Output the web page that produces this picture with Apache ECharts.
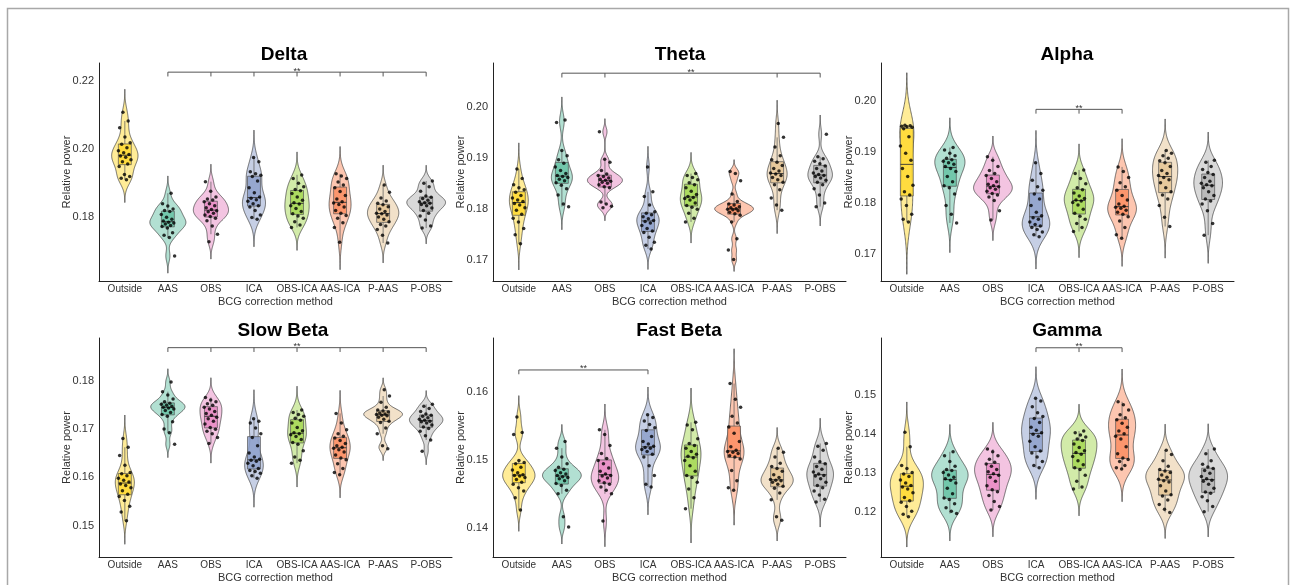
<!DOCTYPE html>
<html>
<head>
<meta charset="utf-8">
<script src="https://cdn.jsdelivr.net/npm/echarts@6/dist/echarts.min.js"></script>
<style>
html, body { margin: 0; padding: 0; background: #fff; }
#chart { width: 1293px; height: 585px; }
</style>
</head>
<body>
<div id="chart"></div>
<script>
var categories = ['Outside', 'AAS', 'OBS', 'ICA', 'OBS-ICA', 'AAS-ICA', 'P-AAS', 'P-OBS'];
var bandNames = ['Delta', 'Theta', 'Alpha', 'Slow Beta', 'Fast Beta', 'Gamma'];

// relative power per subject, one list per correction method
var deltaPower = [
    [0.1909, 0.1913, 0.1918, 0.1924, 0.1948, 0.1955, 0.1962, 0.1968, 0.1975, 0.1979, 0.1983, 0.1988, 0.1994, 0.2003, 0.2013, 0.2018, 0.2035, 0.2062, 0.2082, 0.2108],
    [0.1684, 0.1738, 0.1745, 0.1752, 0.1766, 0.1771, 0.1774, 0.1778, 0.1781, 0.1783, 0.1787, 0.1792, 0.1798, 0.1806, 0.1815, 0.1818, 0.1822, 0.1831, 0.1838, 0.1869],
    [0.1726, 0.1748, 0.1772, 0.1788, 0.1795, 0.1800, 0.1805, 0.1810, 0.1814, 0.1817, 0.1821, 0.1826, 0.1832, 0.1838, 0.1844, 0.1849, 0.1852, 0.1858, 0.1875, 0.1903],
    [0.1792, 0.1797, 0.1805, 0.1818, 0.1828, 0.1832, 0.1838, 0.1845, 0.1850, 0.1854, 0.1858, 0.1870, 0.1885, 0.1905, 0.1918, 0.1922, 0.1926, 0.1932, 0.1962, 0.1974],
    [0.1768, 0.1775, 0.1785, 0.1795, 0.1802, 0.1808, 0.1815, 0.1824, 0.1832, 0.1837, 0.1841, 0.1848, 0.1858, 0.1868, 0.1876, 0.1880, 0.1888, 0.1898, 0.1912, 0.1923],
    [0.1724, 0.1768, 0.1782, 0.1795, 0.1803, 0.1810, 0.1818, 0.1828, 0.1836, 0.1840, 0.1844, 0.1852, 0.1862, 0.1874, 0.1885, 0.1893, 0.1902, 0.1912, 0.1920, 0.1926],
    [0.1722, 0.1745, 0.1762, 0.1772, 0.1777, 0.1785, 0.1792, 0.1799, 0.1805, 0.1808, 0.1810, 0.1815, 0.1822, 0.1829, 0.1835, 0.1839, 0.1846, 0.1855, 0.1872, 0.1893],
    [0.1766, 0.1772, 0.1790, 0.1802, 0.1810, 0.1818, 0.1825, 0.1832, 0.1836, 0.1839, 0.1841, 0.1844, 0.1848, 0.1853, 0.1857, 0.1861, 0.1875, 0.1888, 0.1898, 0.1905]
];
var thetaPower = [
    [0.1732, 0.1750, 0.1762, 0.1775, 0.1782, 0.1790, 0.1798, 0.1803, 0.1808, 0.1811, 0.1815, 0.1818, 0.1822, 0.1827, 0.1833, 0.1838, 0.1842, 0.1848, 0.1860, 0.1879],
    [0.1805, 0.1810, 0.1828, 0.1840, 0.1847, 0.1852, 0.1856, 0.1859, 0.1862, 0.1864, 0.1866, 0.1870, 0.1876, 0.1883, 0.1890, 0.1897, 0.1905, 0.1915, 0.1970, 0.1975],
    [0.1803, 0.1806, 0.1810, 0.1814, 0.1842, 0.1844, 0.1848, 0.1851, 0.1853, 0.1855, 0.1857, 0.1859, 0.1861, 0.1864, 0.1866, 0.1869, 0.1876, 0.1892, 0.1898, 0.1952],
    [0.1722, 0.1729, 0.1735, 0.1745, 0.1754, 0.1757, 0.1762, 0.1768, 0.1773, 0.1776, 0.1778, 0.1781, 0.1785, 0.1789, 0.1792, 0.1795, 0.1808, 0.1825, 0.1834, 0.1883],
    [0.1775, 0.1782, 0.1792, 0.1800, 0.1804, 0.1807, 0.1812, 0.1818, 0.1821, 0.1823, 0.1825, 0.1829, 0.1835, 0.1842, 0.1848, 0.1852, 0.1858, 0.1862, 0.1866, 0.1870],
    [0.1701, 0.1720, 0.1742, 0.1775, 0.1788, 0.1791, 0.1794, 0.1797, 0.1799, 0.1800, 0.1801, 0.1803, 0.1805, 0.1808, 0.1810, 0.1815, 0.1830, 0.1856, 0.1870, 0.1874],
    [0.1798, 0.1808, 0.1822, 0.1838, 0.1848, 0.1853, 0.1858, 0.1862, 0.1866, 0.1869, 0.1871, 0.1875, 0.1880, 0.1886, 0.1892, 0.1897, 0.1905, 0.1922, 0.1941, 0.1968],
    [0.1805, 0.1812, 0.1828, 0.1840, 0.1848, 0.1853, 0.1857, 0.1861, 0.1864, 0.1866, 0.1868, 0.1871, 0.1875, 0.1880, 0.1885, 0.1889, 0.1894, 0.1899, 0.1903, 0.1947]
];
var alphaPower = [
    [0.1763, 0.1768, 0.1778, 0.1795, 0.1808, 0.1816, 0.1822, 0.1835, 0.1852, 0.1868, 0.1884, 0.1898, 0.1912, 0.1930, 0.1946, 0.1949, 0.1950, 0.1951, 0.1952, 0.1953],
    [0.1761, 0.1778, 0.1795, 0.1818, 0.1830, 0.1834, 0.1842, 0.1852, 0.1862, 0.1868, 0.1872, 0.1876, 0.1879, 0.1882, 0.1885, 0.1888, 0.1893, 0.1898, 0.1904, 0.1909],
    [0.1767, 0.1785, 0.1805, 0.1812, 0.1816, 0.1819, 0.1823, 0.1827, 0.1830, 0.1832, 0.1834, 0.1837, 0.1842, 0.1848, 0.1854, 0.1858, 0.1864, 0.1872, 0.1884, 0.1891],
    [0.1734, 0.1738, 0.1743, 0.1748, 0.1752, 0.1755, 0.1758, 0.1763, 0.1768, 0.1771, 0.1775, 0.1782, 0.1795, 0.1808, 0.1818, 0.1825, 0.1832, 0.1845, 0.1858, 0.1879],
    [0.1744, 0.1752, 0.1760, 0.1768, 0.1774, 0.1780, 0.1788, 0.1796, 0.1801, 0.1804, 0.1806, 0.1809, 0.1814, 0.1820, 0.1826, 0.1830, 0.1838, 0.1848, 0.1858, 0.1865],
    [0.1731, 0.1738, 0.1752, 0.1765, 0.1773, 0.1778, 0.1782, 0.1786, 0.1790, 0.1792, 0.1794, 0.1798, 0.1806, 0.1815, 0.1825, 0.1832, 0.1840, 0.1850, 0.1862, 0.1871],
    [0.1754, 0.1772, 0.1795, 0.1808, 0.1816, 0.1822, 0.1830, 0.1840, 0.1846, 0.1850, 0.1854, 0.1858, 0.1864, 0.1872, 0.1879, 0.1883, 0.1888, 0.1893, 0.1898, 0.1903],
    [0.1737, 0.1760, 0.1785, 0.1798, 0.1804, 0.1808, 0.1815, 0.1822, 0.1830, 0.1834, 0.1836, 0.1839, 0.1843, 0.1850, 0.1856, 0.1860, 0.1866, 0.1872, 0.1880, 0.1884]
];
var slowBetaPower = [
    [0.1510, 0.1528, 0.1540, 0.1552, 0.1560, 0.1565, 0.1572, 0.1578, 0.1583, 0.1586, 0.1590, 0.1594, 0.1598, 0.1603, 0.1607, 0.1610, 0.1625, 0.1645, 0.1662, 0.1680],
    [0.1668, 0.1692, 0.1700, 0.1715, 0.1726, 0.1730, 0.1734, 0.1738, 0.1741, 0.1743, 0.1745, 0.1747, 0.1749, 0.1751, 0.1753, 0.1756, 0.1762, 0.1770, 0.1777, 0.1797],
    [0.1670, 0.1682, 0.1690, 0.1695, 0.1699, 0.1703, 0.1710, 0.1716, 0.1721, 0.1724, 0.1728, 0.1732, 0.1736, 0.1741, 0.1745, 0.1749, 0.1752, 0.1756, 0.1760, 0.1765],
    [0.1598, 0.1603, 0.1608, 0.1612, 0.1614, 0.1618, 0.1624, 0.1629, 0.1633, 0.1635, 0.1637, 0.1642, 0.1650, 0.1665, 0.1682, 0.1690, 0.1702, 0.1712, 0.1716, 0.1721],
    [0.1629, 0.1635, 0.1642, 0.1655, 0.1668, 0.1672, 0.1678, 0.1684, 0.1688, 0.1690, 0.1692, 0.1696, 0.1703, 0.1712, 0.1718, 0.1722, 0.1726, 0.1730, 0.1734, 0.1739],
    [0.1605, 0.1610, 0.1618, 0.1628, 0.1636, 0.1640, 0.1646, 0.1652, 0.1657, 0.1660, 0.1662, 0.1665, 0.1670, 0.1676, 0.1681, 0.1685, 0.1690, 0.1698, 0.1712, 0.1732],
    [0.1659, 0.1665, 0.1690, 0.1702, 0.1713, 0.1716, 0.1720, 0.1724, 0.1727, 0.1728, 0.1730, 0.1731, 0.1733, 0.1735, 0.1737, 0.1739, 0.1745, 0.1755, 0.1768, 0.1781],
    [0.1654, 0.1677, 0.1686, 0.1695, 0.1701, 0.1704, 0.1708, 0.1712, 0.1715, 0.1716, 0.1718, 0.1720, 0.1723, 0.1726, 0.1728, 0.1731, 0.1736, 0.1742, 0.1747, 0.1751]
];
var fastBetaPower = [
    [0.1427, 0.1445, 0.1455, 0.1460, 0.1465, 0.1468, 0.1472, 0.1475, 0.1477, 0.1478, 0.1479, 0.1482, 0.1486, 0.1490, 0.1495, 0.1497, 0.1500, 0.1538, 0.1541, 0.1564],
    [0.1402, 0.1417, 0.1451, 0.1456, 0.1463, 0.1466, 0.1470, 0.1473, 0.1475, 0.1476, 0.1478, 0.1480, 0.1482, 0.1485, 0.1487, 0.1490, 0.1495, 0.1505, 0.1518, 0.1528],
    [0.1411, 0.1451, 0.1456, 0.1461, 0.1465, 0.1467, 0.1470, 0.1474, 0.1477, 0.1478, 0.1480, 0.1484, 0.1489, 0.1495, 0.1500, 0.1503, 0.1510, 0.1522, 0.1538, 0.1545],
    [0.1461, 0.1465, 0.1478, 0.1492, 0.1505, 0.1509, 0.1513, 0.1516, 0.1518, 0.1519, 0.1521, 0.1524, 0.1528, 0.1535, 0.1544, 0.1548, 0.1553, 0.1558, 0.1563, 0.1567],
    [0.1429, 0.1445, 0.1458, 0.1468, 0.1475, 0.1478, 0.1484, 0.1492, 0.1500, 0.1504, 0.1506, 0.1509, 0.1513, 0.1518, 0.1522, 0.1525, 0.1532, 0.1545, 0.1552, 0.1556],
    [0.1456, 0.1460, 0.1470, 0.1485, 0.1502, 0.1505, 0.1507, 0.1510, 0.1512, 0.1513, 0.1515, 0.1520, 0.1528, 0.1540, 0.1549, 0.1555, 0.1565, 0.1578, 0.1590, 0.1613],
    [0.1412, 0.1417, 0.1442, 0.1452, 0.1459, 0.1462, 0.1465, 0.1468, 0.1470, 0.1471, 0.1472, 0.1475, 0.1479, 0.1484, 0.1488, 0.1491, 0.1496, 0.1505, 0.1512, 0.1518],
    [0.1439, 0.1443, 0.1449, 0.1455, 0.1460, 0.1463, 0.1468, 0.1473, 0.1477, 0.1478, 0.1480, 0.1483, 0.1487, 0.1491, 0.1495, 0.1498, 0.1505, 0.1515, 0.1521, 0.1525]
];
var gammaPower = [
    [0.1189, 0.1195, 0.1203, 0.1215, 0.1226, 0.1230, 0.1238, 0.1250, 0.1260, 0.1265, 0.1269, 0.1275, 0.1283, 0.1292, 0.1298, 0.1302, 0.1312, 0.1320, 0.1368, 0.1405],
    [0.1197, 0.1203, 0.1212, 0.1222, 0.1233, 0.1237, 0.1248, 0.1262, 0.1275, 0.1282, 0.1286, 0.1290, 0.1296, 0.1302, 0.1307, 0.1310, 0.1318, 0.1330, 0.1345, 0.1355],
    [0.1206, 0.1215, 0.1228, 0.1243, 0.1253, 0.1258, 0.1268, 0.1280, 0.1290, 0.1295, 0.1299, 0.1304, 0.1310, 0.1318, 0.1324, 0.1328, 0.1336, 0.1345, 0.1355, 0.1362],
    [0.1314, 0.1320, 0.1330, 0.1342, 0.1352, 0.1357, 0.1368, 0.1382, 0.1395, 0.1400, 0.1404, 0.1410, 0.1418, 0.1430, 0.1440, 0.1445, 0.1455, 0.1470, 0.1485, 0.1492],
    [0.1260, 0.1265, 0.1280, 0.1295, 0.1310, 0.1314, 0.1322, 0.1332, 0.1343, 0.1349, 0.1353, 0.1358, 0.1366, 0.1375, 0.1384, 0.1388, 0.1393, 0.1398, 0.1404, 0.1408],
    [0.1311, 0.1314, 0.1320, 0.1330, 0.1335, 0.1339, 0.1350, 0.1368, 0.1388, 0.1395, 0.1401, 0.1408, 0.1418, 0.1428, 0.1437, 0.1442, 0.1450, 0.1462, 0.1475, 0.1483],
    [0.1200, 0.1208, 0.1220, 0.1232, 0.1242, 0.1245, 0.1255, 0.1268, 0.1278, 0.1281, 0.1285, 0.1290, 0.1296, 0.1302, 0.1306, 0.1310, 0.1318, 0.1332, 0.1348, 0.1359],
    [0.1202, 0.1215, 0.1230, 0.1240, 0.1249, 0.1252, 0.1262, 0.1272, 0.1280, 0.1282, 0.1286, 0.1292, 0.1300, 0.1307, 0.1312, 0.1316, 0.1323, 0.1332, 0.1350, 0.1362]
];

var yTicks = [
    [0.18, 0.20, 0.22],
    [0.17, 0.18, 0.19, 0.20],
    [0.17, 0.18, 0.19, 0.20],
    [0.15, 0.16, 0.17, 0.18],
    [0.14, 0.15, 0.16],
    [0.12, 0.13, 0.14, 0.15]
];
var yRanges = [
    [0.1610, 0.2253],
    [0.1659, 0.2087],
    [0.1647, 0.2075],
    [0.1435, 0.1888],
    [0.1358, 0.1680],
    [0.1086, 0.1646]
];
// significance brackets: height and the groups they join
var sigLevels = [0.2226, 0.2067, 0.1984, 0.1868, 0.1633, 0.1621];
var sigGroups = [
    [2, 3, 4, 5, 6, 7, 8],
    [2, 3, 7, 8],
    [4, 5, 6],
    [2, 3, 4, 5, 6, 7, 8],
    [1, 4],
    [4, 5, 6]
];

var palette = ['#FFD92F', '#66C2A5', '#E78AC3', '#8DA0CB', '#A6D854', '#FC8D62', '#E5C494', '#B3B3B3'];
var font = 'Liberation Sans, Arial, sans-serif';
var colLeft = [99, 493, 881];
var rowTop = [63, 338];
var plotH = [218, 219];
var plotW = 353;
var titlePos = [[284, 55], [680, 55], [1067, 55], [283, 331], [679, 331], [1067, 331]];

var allPower = [deltaPower, thetaPower, alphaPower, slowBetaPower, fastBetaPower, gammaPower];

function fade(hex, a) {
    var n = parseInt(hex.slice(1), 16);
    return 'rgba(' + (n >> 16) + ',' + ((n >> 8) & 255) + ',' + (n & 255) + ',' + a + ')';
}

function quantile(sorted, p) {
    var h = (sorted.length - 1) * p, lo = Math.floor(h);
    var hi = Math.min(lo + 1, sorted.length - 1);
    return sorted[lo] + (h - lo) * (sorted[hi] - sorted[lo]);
}

function boxStats(vals) {
    var s = vals.slice().sort(function (a, b) { return a - b; });
    var q1 = quantile(s, 0.25), med = quantile(s, 0.5), q3 = quantile(s, 0.75);
    var iqr = q3 - q1;
    var inside = s.filter(function (v) { return v >= q1 - 1.5 * iqr && v <= q3 + 1.5 * iqr; });
    return [inside[0], q1, med, q3, inside[inside.length - 1]];
}

// gaussian kde, bw.nrd0, tails to 3 bandwidths (like trim = FALSE)
function density(vals) {
    var s = vals.slice().sort(function (a, b) { return a - b; });
    var n = s.length;
    var mean = s.reduce(function (a, b) { return a + b; }, 0) / n;
    var sd = Math.sqrt(s.reduce(function (a, b) { return a + (b - mean) * (b - mean); }, 0) / (n - 1));
    var iqr = quantile(s, 0.75) - quantile(s, 0.25);
    var bw = 0.9 * Math.min(sd, iqr / 1.34) * Math.pow(n, -0.2);
    var y0 = s[0] - 3 * bw, y1 = s[n - 1] + 3 * bw;
    var out = [];
    for (var i = 0; i <= 160; i++) {
        var y = y0 + (y1 - y0) * i / 160, d = 0;
        for (var j = 0; j < n; j++) {
            var z = (y - s[j]) / bw;
            d += Math.exp(-0.5 * z * z);
        }
        out.push([y, d / (n * bw * Math.sqrt(2 * Math.PI))]);
    }
    return out;
}

var option = {
    animation: false,
    backgroundColor: '#fff',
    textStyle: { fontFamily: font },
    graphic: [{
        type: 'rect',
        shape: { x: 7.5, y: 8.5, width: 1281, height: 620 },
        style: { fill: 'none', stroke: '#a8a8a8', lineWidth: 1.5 },
        silent: true
    }],
    grid: [],
    xAxis: [],
    yAxis: [],
    series: []
};

allPower.forEach(function (power, p) {
    var row = Math.floor(p / 3), col = p % 3;
    var profiles = power.map(density);
    var maxD = 0;
    profiles.forEach(function (pr) {
        pr.forEach(function (d) { maxD = Math.max(maxD, d[1]); });
    });

    option.graphic.push({
        type: 'text',
        silent: true,
        style: {
            text: bandNames[p], x: titlePos[p][0], y: titlePos[p][1],
            align: 'center', verticalAlign: 'middle',
            textAlign: 'center', textVerticalAlign: 'middle',
            font: 'bold 19px ' + font, fill: '#000'
        }
    });

    option.grid.push({ left: colLeft[col], top: rowTop[row], width: plotW, height: plotH[row] });

    option.xAxis.push({
        type: 'value', gridIndex: p, min: 0.4, max: 8.6,
        axisLine: { lineStyle: { color: '#222', width: 1 } },
        axisTick: { show: false },
        splitLine: { show: false },
        axisLabel: {
            customValues: [1, 2, 3, 4, 5, 6, 7, 8],
            formatter: function (v) { return categories[Math.round(v) - 1]; },
            fontSize: 10, color: '#333', margin: 3
        },
        name: 'BCG correction method', nameLocation: 'middle', nameGap: 15,
        nameTextStyle: { fontSize: 11, color: '#333' }
    });

    option.yAxis.push({
        type: 'value', gridIndex: p, min: yRanges[p][0], max: yRanges[p][1],
        axisLine: { show: true, lineStyle: { color: '#222', width: 1 } },
        axisTick: { show: false },
        splitLine: { show: false },
        axisLabel: {
            customValues: yTicks[p],
            formatter: function (v) { return v.toFixed(2); },
            fontSize: 11, color: '#333', margin: 5
        },
        name: 'Relative power', nameLocation: 'middle', nameGap: 27, nameMoveOverlap: false,
        nameTextStyle: { fontSize: 11, color: '#333' }
    });

    // violins
    option.series.push({
        type: 'custom', xAxisIndex: p, yAxisIndex: p, silent: true, z: 1,
        data: categories.map(function (c, k) { return [k + 1, yRanges[p][0]]; }),
        renderItem: function (params, api) {
            var k = params.dataIndex, x = k + 1;
            var left = [], right = [];
            profiles[k].forEach(function (d) {
                var hw = 0.45 * d[1] / maxD;
                left.push(api.coord([x - hw, d[0]]));
                right.push(api.coord([x + hw, d[0]]));
            });
            return {
                type: 'polygon',
                shape: { points: left.concat(right.reverse()) },
                style: { fill: fade(palette[k], 0.5), stroke: '#3a3a3a', lineWidth: 0.7 }
            };
        }
    });

    // boxes
    option.series.push({
        type: 'custom', xAxisIndex: p, yAxisIndex: p, silent: true, z: 2,
        data: power.map(function (vals, k) { return [k + 1].concat(boxStats(vals)); }),
        renderItem: function (params, api) {
            var k = params.dataIndex, x = api.value(0);
            var lo = api.coord([x, api.value(1)]), q1 = api.coord([x, api.value(2)]);
            var med = api.coord([x, api.value(3)]), q3 = api.coord([x, api.value(4)]);
            var hi = api.coord([x, api.value(5)]);
            var w = api.size([0.3, 0])[0];
            var line = { stroke: '#555', lineWidth: 0.7 };
            return {
                type: 'group',
                children: [
                    { type: 'line', shape: { x1: lo[0], y1: lo[1], x2: q1[0], y2: q1[1] }, style: line },
                    { type: 'line', shape: { x1: q3[0], y1: q3[1], x2: hi[0], y2: hi[1] }, style: line },
                    {
                        type: 'rect',
                        shape: { x: q1[0] - w / 2, y: q3[1], width: w, height: q1[1] - q3[1] },
                        style: { fill: fade(palette[k], 0.85), stroke: '#555', lineWidth: 0.7 }
                    },
                    { type: 'line', shape: { x1: med[0] - w / 2, y1: med[1], x2: med[0] + w / 2, y2: med[1] }, style: { stroke: '#333', lineWidth: 0.9 } }
                ]
            };
        }
    });

    // jittered subjects
    var pts = [];
    power.forEach(function (vals, k) {
        vals.forEach(function (v, i) {
            var jit = (((i + 1) * 0.618034 + k * 0.37) % 1 - 0.5) * 0.32;
            pts.push([k + 1 + jit, v]);
        });
    });
    option.series.push({
        type: 'scatter', xAxisIndex: p, yAxisIndex: p, silent: true, z: 3,
        symbolSize: 3.5, itemStyle: { color: '#000' },
        data: pts
    });

    // significance bracket
    option.series.push({
        type: 'custom', xAxisIndex: p, yAxisIndex: p, silent: true, z: 4,
        data: [[sigGroups[p][0], sigLevels[p]]],
        renderItem: function (params, api) {
            var g = sigGroups[p];
            var a = api.coord([g[0], sigLevels[p]]), b = api.coord([g[g.length - 1], sigLevels[p]]);
            var st = { stroke: '#555', lineWidth: 1 };
            var kids = [{ type: 'line', shape: { x1: a[0], y1: a[1], x2: b[0], y2: b[1] }, style: st }];
            g.forEach(function (t) {
                var c = api.coord([t, sigLevels[p]]);
                kids.push({ type: 'line', shape: { x1: c[0], y1: c[1], x2: c[0], y2: c[1] + 4.3 }, style: st });
            });
            kids.push({
                type: 'text',
                style: {
                    text: '**', x: (a[0] + b[0]) / 2, y: a[1] - 1,
                    align: 'center', verticalAlign: 'middle',
                    textAlign: 'center', textVerticalAlign: 'middle',
                    font: '9px ' + font, fill: '#333'
                }
            });
            return { type: 'group', children: kids };
        }
    });
});

echarts.init(document.getElementById('chart'), null, { renderer: 'canvas' }).setOption(option);
</script>
</body>
</html>
